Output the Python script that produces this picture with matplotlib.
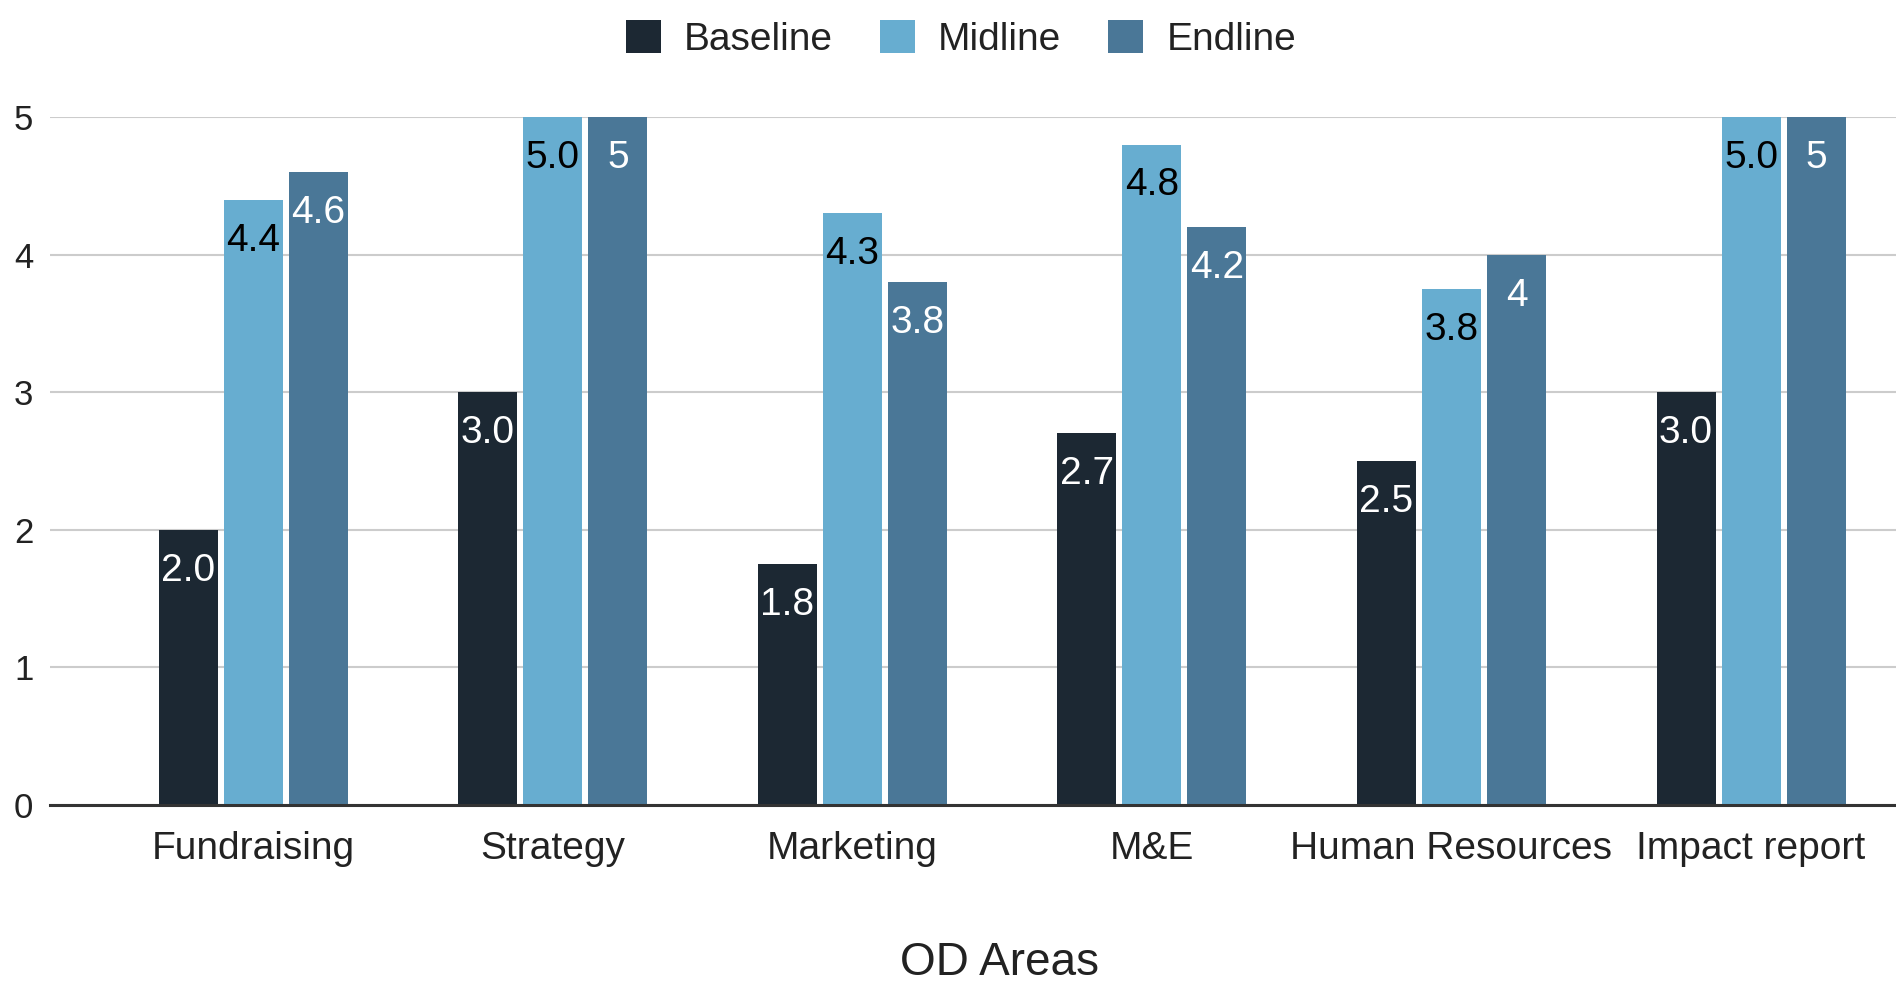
import numpy as np
import matplotlib.pyplot as plt
from matplotlib.patches import Patch

plt.rcParams['font.family'] = ['Liberation Sans', 'DejaVu Sans']

# data
areas = ['Fundraising', 'Strategy', 'Marketing', 'M&E', 'Human Resources', 'Impact report']
series = ['Baseline', 'Midline', 'Endline']
baseline = [2.0, 3.0, 1.75, 2.7, 2.5, 3.0]
midline = [4.4, 5.0, 4.3, 4.8, 3.75, 5.0]
endline = [4.6, 5, 3.8, 4.2, 4, 5]
yticks = [0, 1, 2, 3, 4, 5]

colors = ['#1c2833', '#67add0', '#4a7797']
label_colors = ['white', 'black', 'white']
fmts = ['{:.1f}', '{:.1f}', '{:g}']

W, H = 1896, 989
fig = plt.figure(figsize=(W / 100, H / 100), dpi=100)
ax = fig.add_axes([50 / W, 1 - 805 / H, 1846 / W, 688 / H])

x = np.arange(len(areas))
width = 0.197
step = 0.217

for i, vals in enumerate([baseline, midline, endline]):
    pos = x + (i - 1) * step
    ax.bar(pos, vals, width, color=colors[i], zorder=3)
    for px, v in zip(pos, vals):
        ax.annotate(fmts[i].format(v), (px, v), xytext=(0, -36.7),
                    textcoords='offset points', ha='center', va='baseline',
                    fontsize=28, color=label_colors[i], zorder=4)

ax.set_xlim(-0.679, 5.484)
ax.set_ylim(0, 5)
ax.set_yticks(yticks)
ax.set_xticks(x)
ax.set_xticklabels(areas)
ax.tick_params(axis='y', length=0, pad=12, labelsize=25, labelcolor='#222222')
ax.tick_params(axis='x', length=0, pad=19, labelsize=28, labelcolor='#222222')

ax.grid(axis='y', color='#cccccc', linewidth=1.5, zorder=0)
for s in ['top', 'right', 'left']:
    ax.spines[s].set_visible(False)
ax.spines['bottom'].set_color('#333333')
ax.spines['bottom'].set_linewidth(2.2)
ax.spines['bottom'].set_zorder(5)

fig.text(1000 / W, 1 - 963 / H, 'OD Areas', ha='center', va='center',
         fontsize=33, color='#222222')

handles = [Patch(facecolor=c, edgecolor='none') for c in colors]
fig.legend(handles, series, loc='center', bbox_to_anchor=(961 / W, 1 - 39 / H),
           ncol=3, frameon=False, fontsize=28, handlelength=0.9, handleheight=0.9,
           handletextpad=0.6, columnspacing=1.2, borderpad=0, labelcolor='#222222')

fig.savefig('out.png', dpi=100)
